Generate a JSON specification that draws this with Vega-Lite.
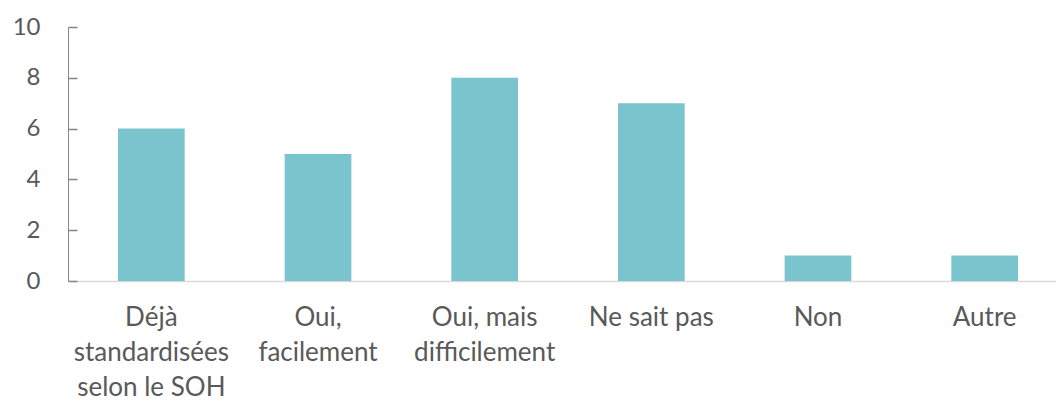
{
  "$schema": "https://vega.github.io/schema/vega-lite/v6.json",
  "autosize": {"type": "none"},
  "width": 988,
  "height": 254,
  "padding": {"left": 68, "top": 27, "right": 0, "bottom": 120},
  "background": "white",
  "config": {"view": {"stroke": null}, "font": "Lato"},
  "data": {"values": [
    {"cat": "Déjà|standardisées|selon le SOH", "n": 6},
    {"cat": "Oui,|facilement", "n": 5},
    {"cat": "Oui, mais|difficilement", "n": 8},
    {"cat": "Ne sait pas", "n": 7},
    {"cat": "Non", "n": 1},
    {"cat": "Autre", "n": 1}
  ]},
  "mark": {"type": "bar", "color": "#7AC5CD"},
  "encoding": {
    "x": {
      "field": "cat", "type": "nominal", "sort": null, "title": null,
      "scale": {"range": [0, 1000], "paddingInner": 0.6, "paddingOuter": 0.3},
      "axis": {
        "labelExpr": "split(datum.value, '|')",
        "labelAngle": 0, "labelFontSize": 26, "labelColor": "#595959",
        "labelLineHeight": 35, "labelPadding": 23, "labelBaseline": "top",
        "ticks": false, "domainColor": "#D9D9D9", "domainWidth": 1.5
      }
    },
    "y": {
      "field": "n", "type": "quantitative", "title": null,
      "scale": {"domain": [0, 10]},
      "axis": {
        "values": [0, 2, 4, 6, 8, 10], "grid": false,
        "labelFontSize": 24, "labelColor": "#595959",
        "ticks": true, "tickSize": -9, "tickWidth": 1.5, "tickOpacity": 1,
        "tickColor": "#868686", "domainColor": "#868686",
        "labelPadding": 37
      }
    }
  }
}
